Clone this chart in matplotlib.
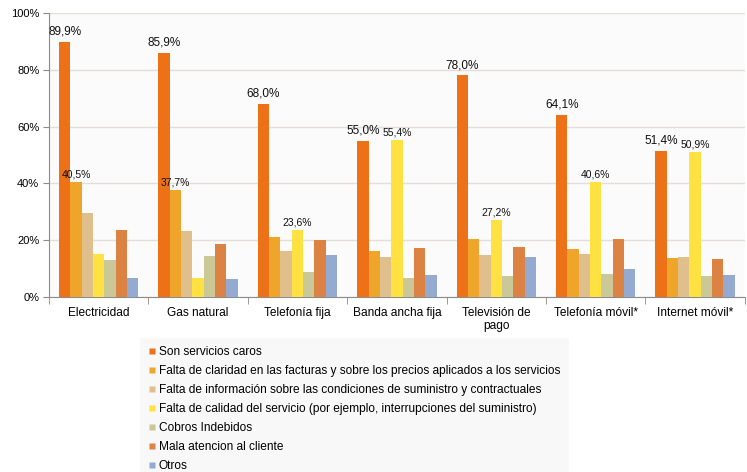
import numpy as np
import matplotlib.pyplot as plt
from matplotlib.lines import Line2D

plt.rcParams['font.family'] = ['Liberation Sans', 'DejaVu Sans']

categories = ['Electricidad', 'Gas natural', 'Telefonía fija', 'Banda ancha fija',
              'Televisión de\npago', 'Telefonía móvil*', 'Internet móvil*']

series_names = [
    'Son servicios caros',
    'Falta de claridad en las facturas y sobre los precios aplicados a los servicios',
    'Falta de información sobre las condiciones de suministro y contractuales',
    'Falta de calidad del servicio (por ejemplo, interrupciones del suministro)',
    'Cobros Indebidos',
    'Mala atencion al cliente',
    'Otros',
]

caros = [89.9, 85.9, 68.0, 55.0, 78.0, 64.1, 51.4]
claridad = [40.5, 37.7, 21.1, 16.2, 20.4, 16.9, 13.7]
informacion = [29.7, 23.3, 16.3, 14.1, 14.8, 15.2, 14.1]
calidad = [15.2, 6.8, 23.6, 55.4, 27.2, 40.6, 50.9]
cobros = [13.0, 14.5, 8.7, 6.6, 7.3, 8.0, 7.3]
atencion = [23.6, 18.7, 20.1, 17.3, 17.6, 20.4, 13.4]
otros = [6.8, 6.3, 14.8, 7.8, 14.1, 9.9, 7.8]

series = [caros, claridad, informacion, calidad, cobros, atencion, otros]
colors = ['#ec7117', '#eea52a', '#dfbf8c', '#ffe241', '#c9c896', '#dc8343', '#95aad1']

# which series get a value label in each category
labelled_second = [1, 1, 3, 3, 3, 3, 3]

fig = plt.figure(figsize=(7.47, 4.72), dpi=100)
ax = fig.add_axes([0.0656, 0.3708, 0.9314, 0.6017])
ax.set_facecolor('#fbfbfb')

x = np.arange(len(categories))
w = 0.114
n = len(series)
for i, (vals, c) in enumerate(zip(series, colors)):
    pos = x + (i - (n - 1) / 2) * w
    ax.bar(pos, vals, width=w, color=c, zorder=3)

# data labels
for j in range(len(categories)):
    p0 = x[j] + (0 - (n - 1) / 2) * w
    ax.annotate(f'{caros[j]:.1f}%'.replace('.', ','), (p0, caros[j]),
                xytext=(0, 7.5), textcoords='offset points',
                ha='center', va='center', fontsize=8.5, color='#111111')
    k = labelled_second[j]
    pk = x[j] + (k - (n - 1) / 2) * w
    v = series[k][j]
    ax.annotate(f'{v:.1f}%'.replace('.', ','), (pk, v),
                xytext=(0, 5.5), textcoords='offset points',
                ha='center', va='center', fontsize=7.5, color='#111111')

ax.set_xlim(-0.5, len(categories) - 0.5)
ax.set_ylim(0, 100)
ax.set_yticks(range(0, 101, 20))
ax.set_yticklabels([f'{v}%' for v in range(0, 101, 20)], fontsize=8)
ax.yaxis.grid(True, color='#e2e0d6', linewidth=1, zorder=0)

ax.set_xticks(x)
ax.set_xticklabels(categories, fontsize=8.6, linespacing=1.1)
ax.tick_params(axis='x', length=0, pad=7)
ax.set_xticks(np.arange(-0.5, len(categories) + 0.5, 1), minor=True)
ax.tick_params(axis='x', which='minor', length=5, color='#8c8c8c', direction='out')
ax.tick_params(axis='y', length=4, color='#8c8c8c', pad=3)

for s in ['top', 'right']:
    ax.spines[s].set_visible(False)
for s in ['left', 'bottom']:
    ax.spines[s].set_color('#8c8c8c')

handles = [Line2D([], [], marker='s', linestyle='none', markersize=5,
                  markerfacecolor=c, markeredgecolor='none') for c in colors]
leg = fig.legend(handles, series_names, loc='upper left',
                 bbox_to_anchor=(0.187, 0.284), fontsize=8.6,
                 handlelength=0.6, handletextpad=0.3, labelspacing=0.58,
                 borderpad=0.7, borderaxespad=0, frameon=True, fancybox=False)
leg.get_frame().set_facecolor('#f7f7f7')
leg.get_frame().set_edgecolor('none')

fig.savefig('out.png', dpi=100)
